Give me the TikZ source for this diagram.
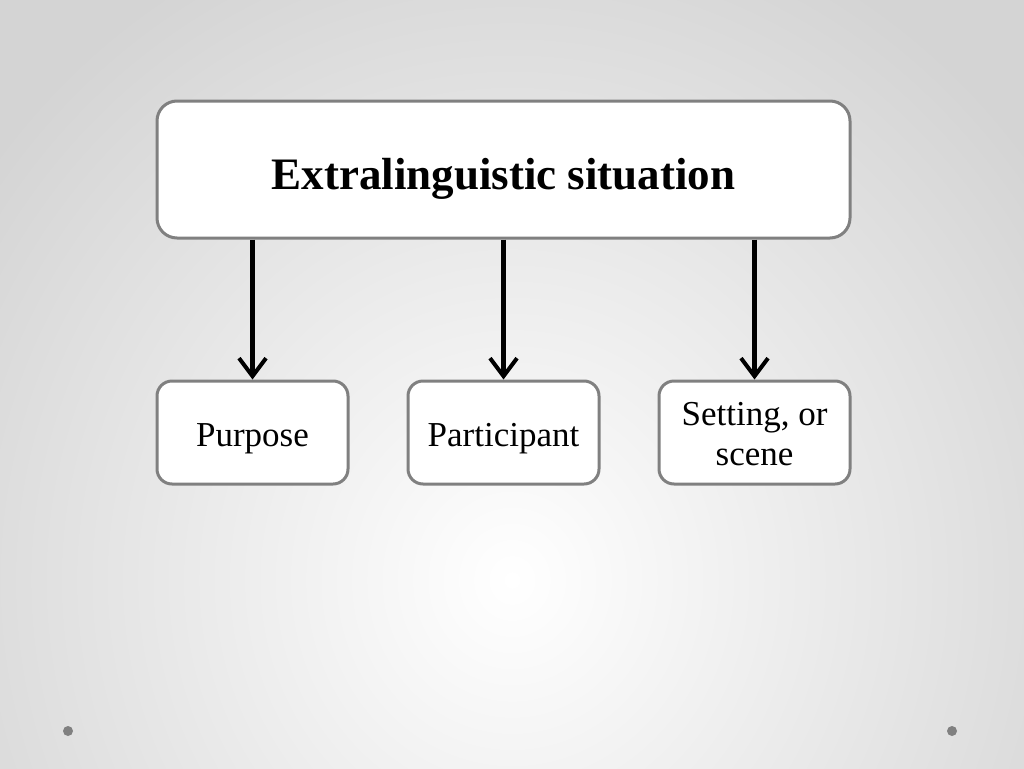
\documentclass[tikz,border=0pt]{standalone}
\usepackage{fontspec}
\setmainfont{Liberation Serif}
\usetikzlibrary{arrows.meta}
\begin{document}
\begin{tikzpicture}[x=1pt,y=-1pt,
  topbox/.style={draw=black!50,line width=3pt,fill=white,rounded corners=20pt,minimum width=693pt,minimum height=137pt,inner sep=0pt,text height=40pt,text depth=0pt,font=\fontsize{45}{54}\selectfont\bfseries},
  subbox/.style={draw=black!50,line width=3pt,fill=white,rounded corners=15pt,minimum width=191pt,minimum height=103pt,inner sep=0pt},
  lbl/.style={anchor=base,inner sep=0pt,font=\fontsize{35}{40}\selectfont},
  arr/.style={line width=4.5pt,-{Straight Barb[length=18pt,width=27pt,line width=4pt]}},
  dot/.style={circle,fill=black!50,minimum size=10pt,inner sep=0pt}]
  \begin{scope}
    \clip (0,0) rectangle (1024,768);
    \shade[inner color=white,outer color=black!17] (-150,-120) rectangle (1174,1280);
  \end{scope}
  \useasboundingbox (0,0) rectangle (1024,768);
  \node[topbox] (top) at (503.5,169.5) {Extralinguistic situation};
  \node[subbox] (p1) at (252.5,432.5) {};
  \node[subbox] (p2) at (503.5,432.5) {};
  \node[subbox] (p3) at (754.5,432.5) {};
  \node[lbl] (t1) at (252.5,446) {Purpose};
  \node[lbl] (t2) at (503.5,446) {Participant};
  \node[lbl] (t3a) at (754.5,425) {Setting, or};
  \node[lbl] (t3b) at (754.5,465) {scene};
  \draw[arr] (top.south -| p1.north) -- (p1.north);
  \draw[arr] (top.south -| p2.north) -- (p2.north);
  \draw[arr] (top.south -| p3.north) -- (p3.north);
  \node[dot] (d1) at (68,731) {};
  \node[dot] (d2) at (952,731) {};
\end{tikzpicture}
\end{document}
